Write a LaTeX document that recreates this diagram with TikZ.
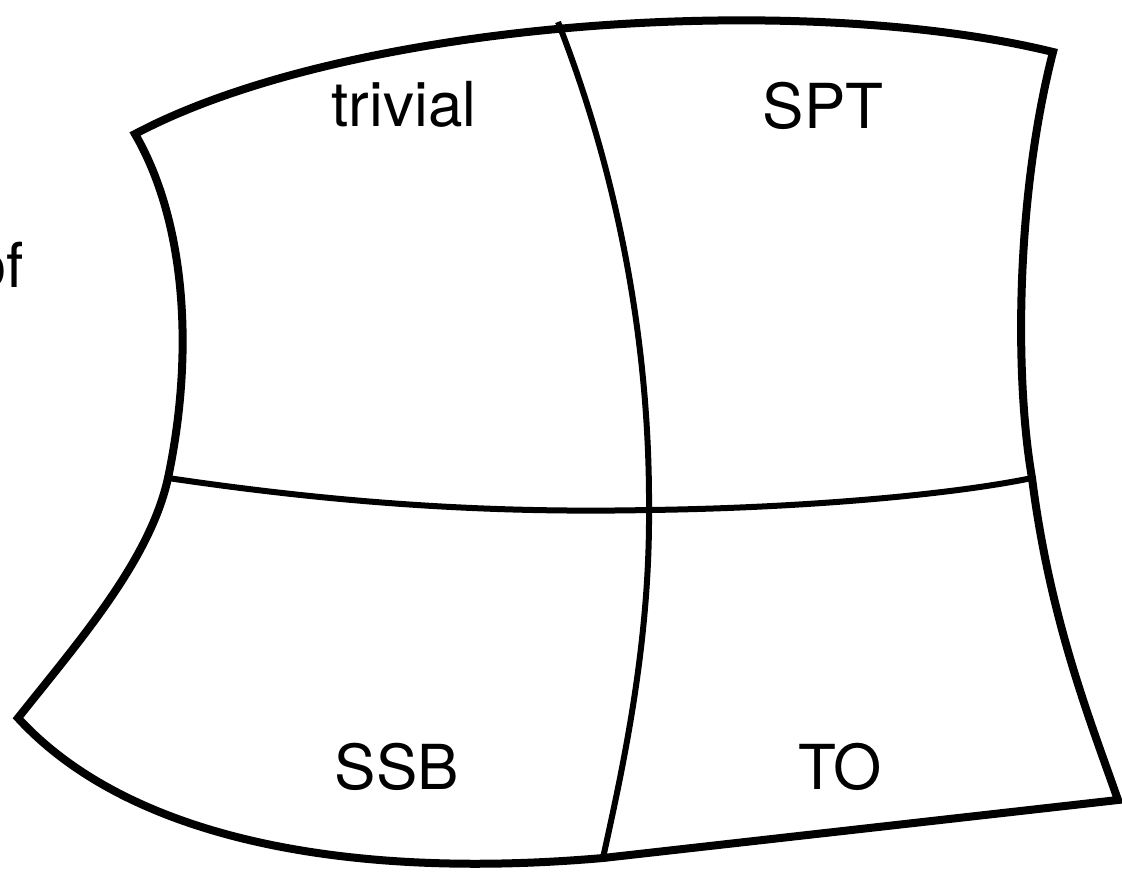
\documentclass[tikz,border=0pt]{standalone}
\usepackage{fontspec}
\setmainfont{TeX Gyre Heros}
\begin{document}
\begin{tikzpicture}[x=1pt,y=-1pt,
  edge/.style={line width=8pt,line join=miter},
  divider/.style={line width=6pt},
  lbl/.style={font=\fontsize{62}{64}\selectfont,inner sep=0pt}]
\useasboundingbox (0,0) rectangle (1122,876);
\begin{scope}
\clip (0,0) rectangle (1122,876);
\node[lbl,anchor=base east] (of) at (24,287) {of};
\end{scope}
% outline
\coordinate (tl) at (135,134);
\coordinate (tr) at (1053,52);
\coordinate (mr) at (1032,478);
\coordinate (br) at (1118,800);
\coordinate (bm) at (603,858);
\coordinate (bl) at (18,718);
\coordinate (ml) at (168,478);
\coordinate (tm) at (558,22);
\coordinate (c) at (649,510);
\draw[edge] (tl) .. controls (350,20) and (800,-10) .. (tr)
  .. controls (1015,200) and (1015,380) .. (mr)
  .. controls (1050,620) and (1090,720) .. (br)
  -- (bm)
  .. controls (350,880) and (130,840) .. (bl)
  .. controls (80,640) and (150,560) .. (ml)
  .. controls (195,350) and (185,220) .. (tl) -- cycle;
% dividers
\draw[divider] (ml) .. controls (350,505) and (500,513) .. (c)
  .. controls (800,508) and (950,495) .. (mr);
\draw[divider] (tm) .. controls (620,180) and (650,350) .. (c)
  .. controls (650,650) and (620,780) .. (bm);
% labels
\node[lbl] (trivial) at (404,104) {trivial};
\node[lbl] (spt) at (823,106) {SPT};
\node[lbl] (ssb) at (397,767) {SSB};
\node[lbl] (to) at (840,767) {TO};
\end{tikzpicture}
\end{document}
